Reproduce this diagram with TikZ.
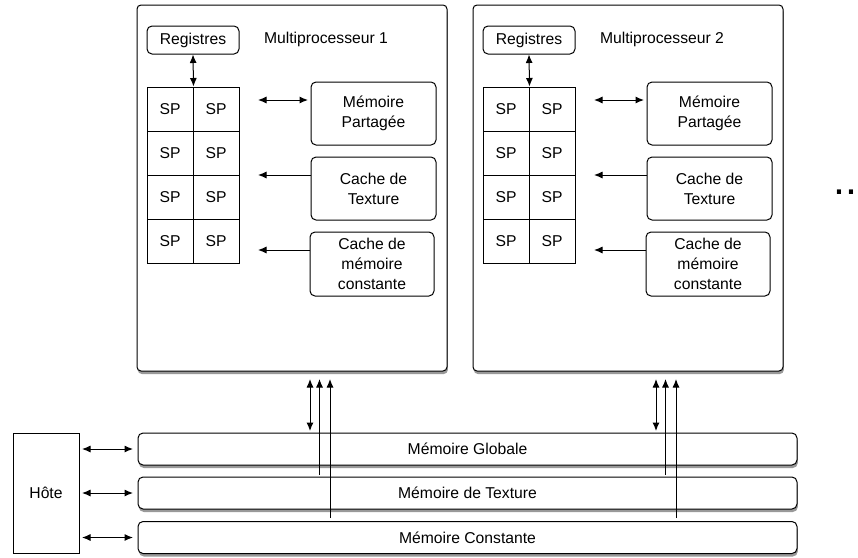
\documentclass[tikz,border=0pt]{standalone}
\usepackage{fontspec}
\setmainfont{Liberation Sans}
\usetikzlibrary{arrows.meta,shadows}
\begin{document}
\begin{tikzpicture}[x=1pt,y=-1pt,
  font=\fontsize{15.7}{20}\selectfont,
  tip/.style={-{Latex[length=8.5pt,width=7pt]}},
  dtip/.style={{Latex[length=8.5pt,width=7pt]}-{Latex[length=8.5pt,width=7pt]}},
  conn/.style={line width=1pt},
  shad/.style={drop shadow={shadow xshift=0.8pt,shadow yshift=-3pt,fill=black,opacity=0.4}},
  mpbox/.style={draw,line width=1pt,rounded corners=4pt,fill=white,shad,minimum width=310pt,minimum height=366pt,inner sep=0},
  rbox/.style={draw,line width=1pt,rounded corners=5pt,fill=white,align=center,inner sep=0},
  cell/.style={draw,line width=1pt,minimum width=46pt,minimum height=44pt,inner sep=0},
  bar/.style={draw,line width=1pt,rounded corners=5pt,fill=white,shad,minimum width=659pt,minimum height=32pt,inner sep=0},
]
\useasboundingbox (0,0) rectangle (858,557);

% Multiprocessors
\foreach \i/\dx in {1/0,2/336}{
  \node[mpbox] (mp\i) at (292+\dx,188) {};
  \node[rbox,minimum width=92pt,minimum height=28pt] (reg\i) at (193+\dx,40) {Registres};
  \node (lab\i) at (326+\dx,39) {Multiprocesseur \i};
  \foreach \r/\y in {1/109,2/153,3/197,4/241}{
    \node[cell] (sp\i a\r) at (170+\dx,\y) {SP};
    \node[cell] (sp\i b\r) at (216+\dx,\y) {SP};
  }
  \node[rbox,minimum width=125pt,minimum height=63pt] (mpart\i) at (373.5+\dx,113.5) {Mémoire\\Partagée};
  \node[rbox,minimum width=125pt,minimum height=63pt] (ctex\i) at (373.5+\dx,188.5) {Cache de\\Texture};
  \node[rbox,minimum width=124pt,minimum height=64pt] (cconst\i) at (372+\dx,264) {Cache de\\mémoire\\constante};
  \coordinate (pa\i) at (258+\dx,100);
  \coordinate (pb\i) at (308+\dx,100);
  \coordinate (ta\i) at (258+\dx,175);
  \coordinate (tb\i) at (311+\dx,175);
  \coordinate (ca\i) at (258+\dx,250);
  \coordinate (cb\i) at (310+\dx,250);
  \draw[conn,dtip] (reg\i.south) -- (sp\i a1.north east);
  \draw[conn,dtip] (pa\i) -- (pb\i);
  \draw[conn,tip] (tb\i) -- (ta\i);
  \draw[conn,tip] (cb\i) -- (ca\i);
}

% Memory bars
\node[bar] (glob) at (467.5,449) {Mémoire Globale};
\node[bar] (tex) at (467.5,493) {Mémoire de Texture};
\node[bar] (const) at (467.5,537.5) {Mémoire Constante};

% Host
\node[draw,line width=1pt,fill=white,minimum width=66pt,minimum height=120pt,inner sep=0] (host) at (46,493) {Hôte};
\foreach \n/\y in {glob/449,tex/493,const/537.5}{
  \coordinate (h\n) at (82,\y);
  \coordinate (m\n) at (133,\y);
  \draw[conn,dtip] (h\n) -- (m\n);
}

% vertical connections
\foreach \i/\dx in {1/0,2/346}{
  \coordinate (va\i) at (310+\dx,379);
  \coordinate (vb\i) at (310+\dx,431);
  \coordinate (wa\i) at (319.5+\dx,379);
  \coordinate (wb\i) at (319.5+\dx,475);
  \coordinate (xa\i) at (330+\dx,379);
  \coordinate (xb\i) at (330+\dx,518);
  \draw[conn,dtip] (va\i) -- (vb\i);
  \draw[conn,tip] (wb\i) -- (wa\i);
  \draw[conn,tip] (xb\i) -- (xa\i);
}

% continuation dots
\node[anchor=base west,inner sep=0,font=\fontsize{43}{43}\selectfont] (dots) at (833,194.5) {...};
\end{tikzpicture}
\end{document}
